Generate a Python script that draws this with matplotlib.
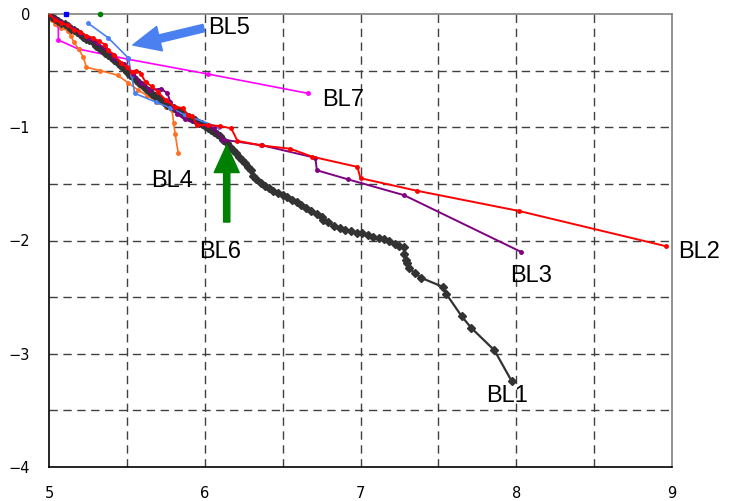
import matplotlib
matplotlib.use("Agg")
import matplotlib.pyplot as plt

plt.rcParams['axes.unicode_minus'] = True

# ---------------- data ----------------
bl1_x = [5.00, 5.02, 5.04, 5.06, 5.08, 5.10, 5.12, 5.14, 5.16, 5.18, 5.20, 5.22, 5.24,
         5.26, 5.28, 5.30, 5.32, 5.34, 5.36, 5.38, 5.40, 5.42, 5.44, 5.46, 5.48, 5.50,
         5.52, 5.54, 5.56, 5.58, 5.60, 5.62, 5.64, 5.66, 5.68, 5.70, 5.72, 5.74, 5.76,
         5.78, 5.80, 5.82, 5.84, 5.86, 5.88, 5.90, 5.92, 5.94, 5.96, 5.98, 6.00, 6.02,
         6.04, 6.06, 6.08, 6.10, 6.12, 6.14, 6.16, 6.18, 6.20, 6.22, 6.24, 6.26, 6.28,
         6.30, 6.31, 6.33, 6.36, 6.39, 6.41, 6.44, 6.47, 6.50, 6.53, 6.56, 6.59, 6.62,
         6.65, 6.68, 6.72, 6.75, 6.76, 6.79, 6.83, 6.87, 6.90, 6.94, 6.98, 7.01, 7.05,
         7.08, 7.12, 7.15, 7.18, 7.22, 7.25, 7.28, 7.28, 7.29, 7.30, 7.31, 7.35, 7.39,
         7.53, 7.55, 7.65, 7.71, 7.86, 7.97]
bl1_y = [0.00, -0.03, -0.04, -0.06, -0.08, -0.09, -0.11, -0.13, -0.14, -0.16, -0.18, -0.20,
         -0.22, -0.23, -0.25, -0.28, -0.30, -0.32, -0.34, -0.36, -0.38, -0.41, -0.43,
         -0.46, -0.48, -0.51, -0.54, -0.56, -0.58, -0.61, -0.63, -0.66, -0.68, -0.71,
         -0.72, -0.74, -0.76, -0.78, -0.80, -0.81, -0.83, -0.85, -0.86, -0.88, -0.90,
         -0.91, -0.93, -0.94, -0.96, -0.97, -0.99, -1.01, -1.02, -1.04, -1.06, -1.08,
         -1.11, -1.14, -1.17, -1.20, -1.23, -1.26, -1.29, -1.32, -1.35, -1.38, -1.43,
         -1.46, -1.49, -1.52, -1.54, -1.56, -1.58, -1.60, -1.62, -1.64, -1.66, -1.69,
         -1.71, -1.74, -1.77, -1.79, -1.82, -1.84, -1.87, -1.89, -1.91, -1.92, -1.93,
         -1.93, -1.95, -1.97, -1.98, -1.99, -2.00, -2.03, -2.05, -2.06, -2.12, -2.17,
         -2.20, -2.24, -2.29, -2.33, -2.41, -2.47, -2.67, -2.77, -2.97, -3.24]

bl2_x = [5.00, 5.04, 5.08, 5.12, 5.16, 5.20, 5.24, 5.28, 5.32, 5.36, 5.38, 5.42, 5.46,
         5.50, 5.53, 5.56, 5.59, 5.62, 5.66, 5.70, 5.75, 5.81, 5.86, 5.89, 5.92, 5.95,
         6.02, 6.10, 6.17, 6.21, 6.36, 6.55, 6.69, 6.98, 7.00, 7.36, 8.02, 8.96]
bl2_y = [0.00, -0.05, -0.08, -0.10, -0.14, -0.16, -0.19, -0.21, -0.24, -0.27, -0.32,
         -0.36, -0.43, -0.47, -0.51, -0.50, -0.53, -0.60, -0.64, -0.69, -0.76, -0.82,
         -0.83, -0.89, -0.90, -0.98, -0.98, -0.99, -1.01, -1.12, -1.16, -1.19, -1.26,
         -1.35, -1.45, -1.56, -1.74, -2.05]

bl3_x = [5.00, 5.04, 5.08, 5.12, 5.16, 5.20, 5.25, 5.31, 5.36, 5.42, 5.48, 5.54, 5.59,
         5.65, 5.72, 5.76, 5.78, 5.82, 5.87, 5.95, 6.06, 6.12, 6.37, 6.71, 6.72, 6.92,
         7.28, 8.03]
bl3_y = [0.00, -0.04, -0.07, -0.10, -0.13, -0.17, -0.21, -0.26, -0.30, -0.39, -0.44,
         -0.53, -0.61, -0.67, -0.66, -0.70, -0.78, -0.88, -0.93, -0.97, -1.01, -1.11,
         -1.16, -1.27, -1.38, -1.46, -1.60, -2.10]

bl4_x = [5.00, 5.02, 5.04, 5.08, 5.12, 5.14, 5.16, 5.19, 5.22, 5.24, 5.33, 5.44, 5.51,
         5.57, 5.63, 5.70, 5.75, 5.79, 5.80, 5.81, 5.83]
bl4_y = [0.00, -0.05, -0.09, -0.12, -0.15, -0.19, -0.25, -0.31, -0.38, -0.47, -0.50,
         -0.54, -0.61, -0.67, -0.72, -0.78, -0.82, -0.85, -0.96, -1.06, -1.23]

bl5_x = [5.25, 5.38, 5.51, 5.53, 5.55, 5.69, 5.78, 5.87, 6.09]
bl5_y = [-0.08, -0.21, -0.39, -0.54, -0.70, -0.78, -0.83, -0.89, -1.00]

bl6_x = [5.33]
bl6_y = [0.00]
bl5_top_x = [5.11]
bl5_top_y = [0.00]

bl7_x = [5.00, 5.06, 5.06, 5.19, 5.51, 6.02, 6.66]
bl7_y = [0.00, -0.10, -0.23, -0.31, -0.40, -0.53, -0.70]

x_ticks = [5, 6, 7, 8, 9]
y_ticks = [0, -1, -2, -3, -4]

# ---------------- figure ----------------
fig = plt.figure(figsize=(7.31, 5.01), dpi=100)
ax = fig.add_axes([49 / 731, 1 - 467 / 501, 623 / 731, 453 / 501])

ax.set_xlim(5, 9)
ax.set_ylim(-4, 0)

# grid
for gx in [5.5, 6, 6.5, 7, 7.5, 8, 8.5]:
    ax.axvline(gx, color='#404040', lw=1.0, ls=(0, (6, 4)), zorder=1)
for gy in [-0.5, -1, -1.5, -2, -2.5, -3, -3.5]:
    ax.axhline(gy, color='#404040', lw=1.0, ls=(0, (6, 4)), zorder=1)

ax.plot(bl7_x, bl7_y, color='#FF00FF', lw=1.2, marker='o', ms=2.5, zorder=3)
ax.plot(bl4_x, bl4_y, color='#FF7020', lw=1.2, marker='o', ms=2.5, zorder=3)
ax.plot(bl1_x, bl1_y, color='#333333', lw=1.6, marker='D', ms=3.6, zorder=4)
ax.plot(bl5_x, bl5_y, color='#4A80F0', lw=1.2, marker='o', ms=2.5, zorder=5)
ax.plot(bl3_x, bl3_y, color='#800080', lw=1.4, marker='o', ms=2.5, zorder=5)
ax.plot(bl2_x, bl2_y, color='#FF0000', lw=1.4, marker='o', ms=2.5, zorder=6)
ax.plot(bl6_x, bl6_y, color='#008000', lw=0, marker='o', ms=3, zorder=6, clip_on=False)
ax.plot(bl5_top_x, bl5_top_y, color='#0000FF', lw=0, marker='s', ms=3.5, zorder=6, clip_on=False)

# spines
for s in ['left', 'bottom']:
    ax.spines[s].set_color('black')
    ax.spines[s].set_linewidth(1.2)
for s in ['top', 'right']:
    ax.spines[s].set_color('#808080')
    ax.spines[s].set_linewidth(1.2)

ax.set_xticks(x_ticks)
ax.set_yticks(y_ticks)
ax.set_xticklabels([str(v) for v in x_ticks])
ax.set_yticklabels([('\u2212' + str(-v)) if v < 0 else str(v) for v in y_ticks])
tick_font = ['Liberation Sans Narrow', 'DejaVu Sans']
ax.tick_params(axis='both', length=0, labelsize=10.5)
ax.tick_params(axis='x', pad=13.5)
ax.tick_params(axis='y', pad=13.5)
for lab in ax.get_xticklabels() + ax.get_yticklabels():
    lab.set_fontfamily(tick_font)

# annotations
tf = dict(fontsize=17, family=['Liberation Sans', 'DejaVu Sans'], va='center', ha='left', zorder=8)
ax.text(6.02, -0.12, 'BL5', **tf)
ax.text(6.756, -0.76, 'BL7', **tf)
ax.text(5.654, -1.475, 'BL4', **tf)
ax.text(5.962, -2.10, 'BL6', **tf)
ax.text(7.962, -2.313, 'BL3', **tf)
ax.text(9.04, -2.10, 'BL2', clip_on=False, **tf)
ax.text(7.808, -3.373, 'BL1', **tf)

ax.annotate('', xy=(5.538, -0.274), xytext=(5.994, -0.124),
            arrowprops=dict(arrowstyle='simple,head_length=1.1,head_width=1.0,tail_width=0.3',
                            color='#4A80F0', mutation_scale=18, shrinkA=0, shrinkB=0), zorder=9)
ax.annotate('', xy=(6.141, -1.157), xytext=(6.141, -1.837),
            arrowprops=dict(arrowstyle='simple,head_length=1.1,head_width=1.0,tail_width=0.25',
                            color='#008000', mutation_scale=18, shrinkA=0, shrinkB=0), zorder=9)

fig.savefig('out.png', dpi=100)
